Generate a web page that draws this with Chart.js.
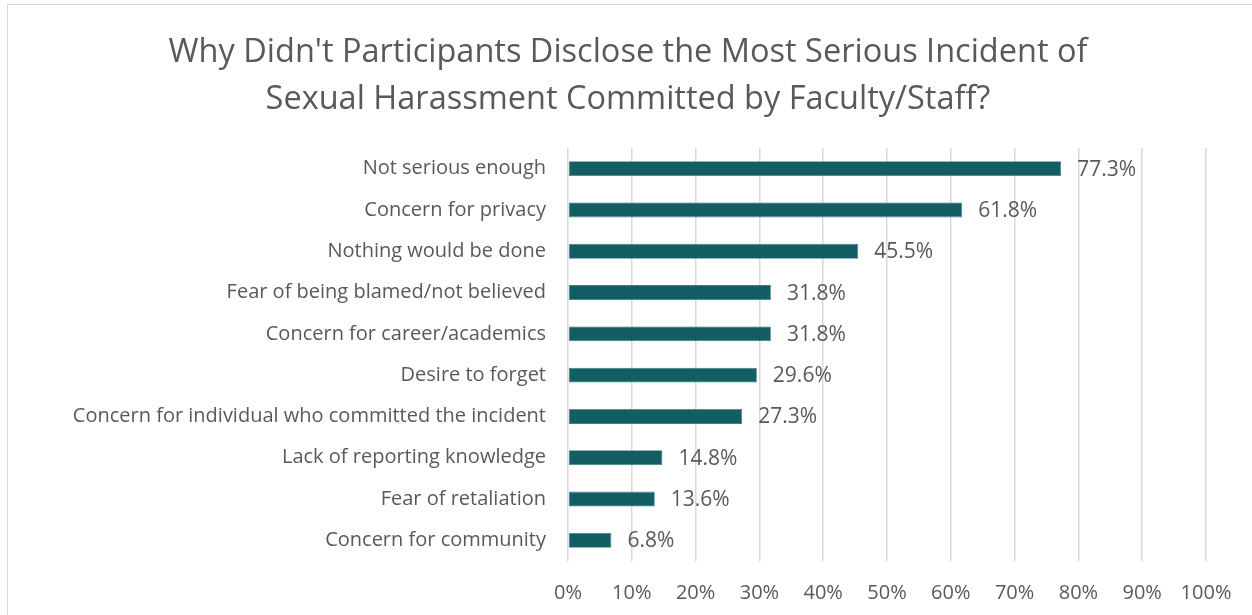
<!DOCTYPE html>
<html>
<head>
<meta charset="utf-8">
<script src="https://cdn.jsdelivr.net/npm/chart.js@4"></script>
<style>
  body { margin: 0; background: #fff; overflow: hidden; }
  #frame { position: absolute; left: 7px; top: 4px; width: 1300px; height: 700px; border: 1.5px solid #d9d9d9; box-sizing: border-box; }
  #wrap { position: absolute; left: 0; top: 0; width: 1252px; height: 615px; }
</style>
</head>
<body>
<div id="frame"></div>
<div id="wrap"><canvas id="chart"></canvas></div>
<script>
const reasons = [
  'Not serious enough',
  'Concern for privacy',
  'Nothing would be done',
  'Fear of being blamed/not believed',
  'Concern for career/academics',
  'Desire to forget',
  'Concern for individual who committed the incident',
  'Lack of reporting knowledge',
  'Fear of retaliation',
  'Concern for community'
];
const percents = [77.3, 61.8, 45.5, 31.8, 31.8, 29.6, 27.3, 14.8, 13.6, 6.8];
const xTicks = [0, 10, 20, 30, 40, 50, 60, 70, 80, 90, 100];

const textGray = '#595959';
const fontFamily = '"Open Sans", Lato, sans-serif';

// value labels drawn just past the end of each bar
const barLabels = {
  id: 'barLabels',
  afterDatasetsDraw(chart) {
    const ctx = chart.ctx;
    const meta = chart.getDatasetMeta(0);
    ctx.save();
    ctx.font = '21px ' + fontFamily;
    ctx.fillStyle = textGray;
    ctx.textAlign = 'left';
    ctx.textBaseline = 'middle';
    meta.data.forEach((bar, i) => {
      ctx.fillText(percents[i].toFixed(1) + '%', bar.x + 16, bar.y + 1);
    });
    ctx.restore();
  }
};

new Chart(document.getElementById('chart'), {
  type: 'bar',
  data: {
    labels: reasons,
    datasets: [{
      data: percents,
      backgroundColor: '#135e63',
      borderColor: '#3f8286',
      borderWidth: 0.8,
      borderSkipped: false,
      barPercentage: 0.36,
      categoryPercentage: 1
    }]
  },
  options: {
    indexAxis: 'y',
    responsive: true,
    maintainAspectRatio: false,
    animation: false,
    layout: { padding: { left: 50, right: 46, top: 2, bottom: 9 } },
    plugins: {
      legend: { display: false },
      tooltip: { enabled: false },
      title: {
        display: true,
        text: ['Why Didn\'t Participants Disclose the Most Serious Incident of',
               'Sexual Harassment Committed by Faculty/Staff?'],
        color: textGray,
        font: { family: fontFamily, size: 32.5, weight: 'normal', lineHeight: 1.446 },
        padding: { top: 27, bottom: 25 }
      }
    },
    scales: {
      x: {
        min: 0,
        max: 100,
        afterBuildTicks(scale) { scale.ticks = xTicks.map(v => ({ value: v })); },
        afterFit(scale) { scale.height = 45; },
        ticks: {
          color: textGray,
          font: { family: fontFamily, size: 20 },
          padding: 20,
          callback: v => v + '%'
        },
        grid: { color: '#d9d9d9', lineWidth: 1.5, drawTicks: false },
        border: { display: false }
      },
      y: {
        afterFit(scale) { scale.width = 518; },
        ticks: {
          color: textGray,
          font: { family: fontFamily, size: 20 },
          padding: 22
        },
        grid: { display: false, drawTicks: false },
        border: { display: false }
      }
    }
  },
  plugins: [barLabels]
});
</script>
</body>
</html>
